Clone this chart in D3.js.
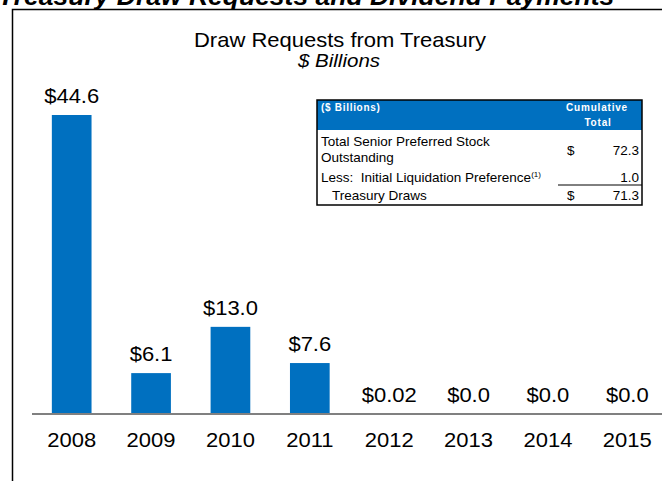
<!DOCTYPE html>
<html>
<head>
<meta charset="utf-8">
<script src="https://cdn.jsdelivr.net/npm/d3@7"></script>
<style>
  body { margin: 0; background: #fff; }
  svg { display: block; font-family: "Liberation Sans", Arial, sans-serif; }
</style>
</head>
<body>
<div id="chart"></div>
<script>
const years = ["2008", "2009", "2010", "2011", "2012", "2013", "2014", "2015"];
const draws = [44.6, 6.1, 13.0, 7.6, 0.02, 0.0, 0.0, 0.0];
const drawLabels = ["$44.6", "$6.1", "$13.0", "$7.6", "$0.02", "$0.0", "$0.0", "$0.0"];

const tableRowLabels = [["Total Senior Preferred Stock", "Outstanding"], ["Less:  Initial Liquidation Preference"], ["   Treasury Draws"]];
const tableDollar = ["$", "", "$"];
const tableValues = ["72.3", "1.0", "71.3"];

const width = 662;
const height = 481;
const blue = "#0070c0";

const svg = d3.select("#chart").append("svg")
  .attr("width", width)
  .attr("height", height);

// stretched text helper (source chart text is a bit wide)
function wideText(parent, x, y, str, size, sx, anchor, style) {
  const g = parent.append("g").attr("transform", `translate(${x},${y}) scale(${sx},1)`);
  const t = g.append("text")
    .attr("font-size", size)
    .attr("text-anchor", anchor || "middle")
    .attr("fill", "#000")
    .text(str);
  if (style) t.attr("font-style", style.italic ? "italic" : null).attr("font-weight", style.bold ? "bold" : null);
  return t;
}

// page heading, mostly cut off at top
wideText(svg, -2, 5, "Treasury Draw Requests and Dividend Payments", 25, 1.06, "start", { bold: true, italic: true });

// frame
svg.append("path")
  .attr("d", `M12.5,${height} V9.5 H${width}`)
  .attr("fill", "none")
  .attr("stroke", "#000")
  .attr("stroke-width", 1.5);

// chart title
wideText(svg, 340, 47, "Draw Requests from Treasury", 20, 1.1);
wideText(svg, 339, 67, "$ Billions", 19, 1.08, "middle", { italic: true });

const x = d3.scaleBand()
  .domain(years)
  .range([32, 667])
  .paddingInner(0.5)
  .paddingOuter(0.25);

const y = d3.scaleLinear()
  .domain([0, 44.6])
  .range([414, 115]);

svg.selectAll(".bar")
  .data(draws)
  .enter()
  .append("rect")
  .attr("class", "bar")
  .attr("x", (d, i) => x(years[i]))
  .attr("y", d => y(d))
  .attr("width", x.bandwidth())
  .attr("height", d => y(0) - y(d))
  .attr("fill", blue);

// baseline
svg.append("line")
  .attr("x1", 32).attr("x2", width)
  .attr("y1", y(0)).attr("y2", y(0))
  .attr("stroke", "#808080")
  .attr("stroke-width", 2);

// value labels
draws.forEach((d, i) => {
  wideText(svg, x(years[i]) + x.bandwidth() / 2, y(d) - 12, drawLabels[i], 20, 1.1);
});

// year labels
years.forEach(yr => {
  wideText(svg, x(yr) + x.bandwidth() / 2, 447, yr, 20, 1.1);
});

// summary table
const tbl = svg.append("g").attr("class", "summary");
const tX = 317, tY = 100, tW = 325, tH = 105;

tbl.append("rect")
  .attr("x", tX).attr("y", tY)
  .attr("width", tW).attr("height", 30)
  .attr("fill", blue);

tbl.append("text")
  .attr("x", tX + 4).attr("y", 111)
  .attr("font-size", 10).attr("font-weight", "bold")
  .attr("letter-spacing", 0.7)
  .attr("fill", "#fff")
  .text("($ Billions)");

tbl.append("text")
  .attr("x", 597).attr("y", 111)
  .attr("font-size", 10).attr("font-weight", "bold")
  .attr("letter-spacing", 0.8)
  .attr("text-anchor", "middle")
  .attr("fill", "#fff")
  .text("Cumulative");

tbl.append("text")
  .attr("x", 598).attr("y", 126)
  .attr("font-size", 10).attr("font-weight", "bold")
  .attr("letter-spacing", 0.8)
  .attr("text-anchor", "middle")
  .attr("fill", "#fff")
  .text("Total");

const rowBase = [146, 182, 200];
const valBase = [155, 182, 200];

tableRowLabels.forEach((lines, i) => {
  const t = tbl.append("text")
    .attr("x", tX + 4).attr("y", rowBase[i])
    .attr("font-size", 13.5)
    .attr("xml:space", "preserve")
    .attr("fill", "#000");
  lines.forEach((ln, j) => {
    t.append("tspan")
      .attr("x", tX + 4)
      .attr("dy", j === 0 ? 0 : 16)
      .text(ln);
  });
  if (i === 1) {
    t.append("tspan").attr("font-size", 8).attr("dy", -5).text("(1)");
  }
  if (tableDollar[i]) {
    tbl.append("text")
      .attr("x", 567).attr("y", valBase[i])
      .attr("font-size", 13.5)
      .text(tableDollar[i]);
  }
  tbl.append("text")
    .attr("x", 639).attr("y", valBase[i])
    .attr("font-size", 13.5)
    .attr("text-anchor", "end")
    .text(tableValues[i]);
});

tbl.append("line")
  .attr("x1", 558).attr("x2", tX + tW)
  .attr("y1", 185).attr("y2", 185)
  .attr("stroke", "#000").attr("stroke-width", 1);

tbl.append("rect")
  .attr("x", tX).attr("y", tY)
  .attr("width", tW).attr("height", tH)
  .attr("fill", "none")
  .attr("stroke", "#000")
  .attr("stroke-width", 1.5);
</script>
</body>
</html>
